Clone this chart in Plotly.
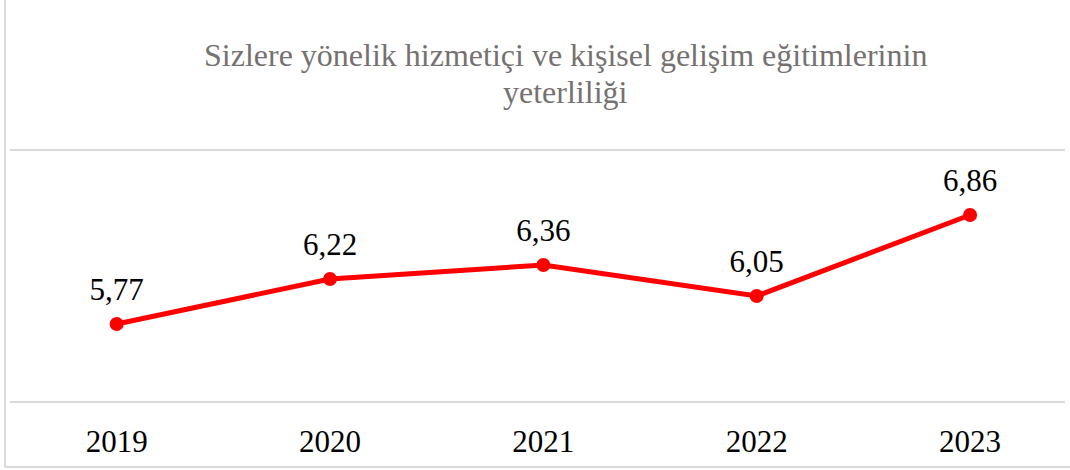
import plotly.graph_objects as go

YEARS = ["2019", "2020", "2021", "2022", "2023"]
SCORES = [5.77, 6.22, 6.36, 6.05, 6.86]
TITLE_LINES = ["Sizlere yönelik hizmetiçi ve kişisel gelişim eğitimlerinin", "yeterliliği"]

LINE_COLOR = "#FF0000"
GRID_COLOR = "#D9D9D9"
TITLE_COLOR = "#767171"
SERIF = "Liberation Serif"

TOP, BOTTOM, LEFT, RIGHT = 151, 69, 10, 5
PLOT_W = 1070 - LEFT - RIGHT
PLOT_H = 470 - TOP - BOTTOM

fig = go.Figure()
fig.add_trace(
    go.Scatter(
        x=YEARS,
        y=SCORES,
        mode="lines+markers",
        line=dict(color=LINE_COLOR, width=5),
        marker=dict(color=LINE_COLOR, size=14),
        cliponaxis=False,
        hoverinfo="skip",
    )
)
# value labels: an invisible, larger marker pushes the text a bit higher
fig.add_trace(
    go.Scatter(
        x=YEARS,
        y=SCORES,
        mode="markers+text",
        marker=dict(color="rgba(0,0,0,0)", size=24),
        text=[f"{score:.2f}".replace(".", ",") for score in SCORES],
        textposition="top center",
        textfont=dict(family=SERIF, size=31, color="#000000"),
        cliponaxis=False,
        hoverinfo="skip",
    )
)

title_annotations = [
    dict(
        text=line,
        xref="paper", yref="paper",
        x=(565 - LEFT) / PLOT_W, y=1 + (TOP - center) / PLOT_H,
        xanchor="center", yanchor="middle",
        showarrow=False,
        font=dict(family=SERIF, size=32, color=TITLE_COLOR),
    )
    for line, center in zip(TITLE_LINES, [55, 92])
]

border = dict(color=GRID_COLOR, width=2)
fig.update_layout(
    width=1070,
    height=470,
    paper_bgcolor="#FFFFFF",
    plot_bgcolor="#FFFFFF",
    showlegend=False,
    margin=dict(t=TOP, b=BOTTOM, l=LEFT, r=RIGHT),
    font=dict(family=SERIF),
    annotations=title_annotations,
    shapes=[
        dict(type="line", xref="paper", yref="paper",
             x0=-5 / PLOT_W, x1=-5 / PLOT_W,
             y0=-66 / PLOT_H, y1=1 + (TOP + 5) / PLOT_H, line=border),
        dict(type="line", xref="paper", yref="paper",
             x0=-5 / PLOT_W, x1=1.02,
             y0=-66 / PLOT_H, y1=-66 / PLOT_H, line=border),
    ],
)

fig.update_xaxes(
    type="category",
    range=[-0.5, 4.445],
    showgrid=False,
    zeroline=False,
    showline=True,
    mirror=True,
    linecolor=GRID_COLOR,
    linewidth=2,
    ticks="outside",
    ticklen=12,
    tickcolor="rgba(0,0,0,0)",
    tickfont=dict(family=SERIF, size=31, color="#000000"),
)
fig.update_yaxes(
    range=[5, 7.5],
    showticklabels=False,
    showgrid=False,
    zeroline=False,
)

fig.write_html(
    "out.html",
    config={"displayModeBar": False},
    post_script="document.body.style.margin='0';",
)
